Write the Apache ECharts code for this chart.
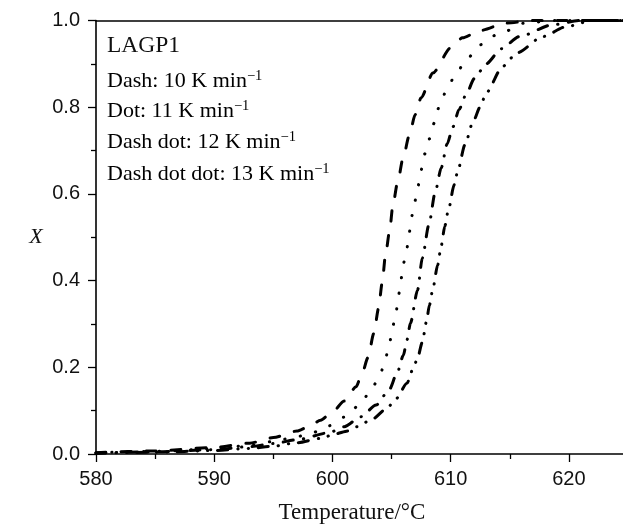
<!DOCTYPE html>
<html>
<head>
<meta charset="utf-8">
<script src="https://cdn.jsdelivr.net/npm/echarts@6/dist/echarts.min.js"></script>
<style>html,body{margin:0;padding:0;background:#fff;}#c{width:623px;height:524px;}</style>
</head>
<body>
<div id="c"></div>
<script>
// Temperature (°C) / conversion X pairs
const dash10 = [[580,0.003],[585,0.007],[590,0.015],[593,0.025],[595,0.038],[597,0.053],[598,0.063],[599,0.078],[600,0.097],[601,0.122],[602,0.155],[602.5,0.185],[603,0.222],[603.5,0.278],[603.9,0.336],[604.2,0.394],[604.5,0.462],[604.85,0.517],[605.1,0.572],[605.5,0.625],[606,0.686],[606.5,0.735],[607,0.783],[607.5,0.822],[608.5,0.879],[610,0.937],[611,0.96],[612.5,0.977],[614.7,0.994],[617,1.0],[625,1.0]];
const dot11 = [[580,0.003],[585,0.006],[590,0.012],[593,0.02],[595,0.029],[597,0.04],[598.3,0.049],[599.7,0.065],[601,0.085],[602.3,0.113],[603.3,0.149],[604.07,0.186],[604.5,0.222],[604.85,0.259],[605.1,0.294],[605.4,0.331],[605.6,0.367],[605.8,0.403],[606.0,0.439],[606.3,0.475],[606.5,0.511],[606.7,0.548],[606.96,0.582],[607.25,0.619],[607.5,0.655],[607.8,0.692],[608.2,0.727],[608.6,0.763],[609.0,0.799],[609.6,0.836],[610.35,0.872],[611.3,0.909],[612.5,0.944],[613.9,0.967],[616.4,0.995],[619,1.0],[625,1.0]];
const dashDot12 = [[580,0.002],[585,0.005],[590,0.01],[593,0.017],[595,0.024],[597,0.033],[599.7,0.049],[601,0.063],[602.4,0.086],[603.7,0.113],[604.8,0.148],[605.5,0.189],[606.0,0.228],[606.3,0.263],[606.6,0.302],[607.2,0.378],[607.6,0.452],[608.15,0.528],[608.7,0.605],[609.2,0.66],[609.7,0.715],[610.2,0.755],[610.7,0.794],[611.3,0.829],[612.0,0.866],[613.0,0.9],[614.3,0.935],[615.8,0.963],[618.6,0.99],[621,1.0],[625,1.0]];
const dashDotDot13 = [[580,0.002],[585,0.004],[590,0.008],[593,0.013],[595,0.018],[597,0.026],[599,0.036],[600.2,0.046],[601.3,0.053],[602.1,0.063],[603.4,0.081],[604.6,0.105],[605.4,0.128],[606.3,0.163],[606.8,0.195],[607.2,0.221],[607.6,0.258],[607.95,0.305],[608.2,0.343],[608.5,0.382],[608.9,0.436],[609.2,0.48],[609.5,0.525],[609.8,0.562],[610.3,0.621],[610.6,0.653],[611.2,0.713],[611.9,0.767],[612.5,0.801],[613.0,0.833],[614.4,0.894],[615.6,0.925],[617.8,0.963],[619.8,0.986],[622,1.0],[625,1.0]];

const xTicks = [580, 590, 600, 610, 620];
const yTicks = [0.0, 0.2, 0.4, 0.6, 0.8, 1.0];
const legendLines = [
  {label: 'Dash: 10 K min', sup: '\u22121'},
  {label: 'Dot: 11 K min', sup: '\u22121'},
  {label: 'Dash dot: 12 K min', sup: '\u22121'},
  {label: 'Dash dot dot: 13 K min', sup: '\u22121'}
];
const sampleName = 'LAGP1';

const chart = echarts.init(document.getElementById('c'), null, {renderer: 'canvas'});
const sansFont = '"Liberation Sans", Arial, sans-serif';
const serifFont = '"Liberation Serif", "Times New Roman", serif';

function lineSeries(name, data, dash) {
  return {
    name: name, type: 'line', data: data, symbol: 'none', smooth: 0.25, smoothMonotone: 'x',
    xAxisIndex: 0, yAxisIndex: 0, silent: true, animation: false, clip: true,
    lineStyle: {color: '#000', width: 3, type: dash, cap: 'round'}
  };
}

const legendY = [81, 111.5, 142.5, 174.5];
const graphics = [
  {type: 'text', left: 107, top: 34, style: {text: sampleName, font: '23.5px ' + serifFont, fill: '#111'}}
];
legendLines.forEach((l, i) => {
  graphics.push({
    type: 'text', x: 107, y: legendY[i],
    style: {
      text: '{a|' + l.label + '}{s|' + l.sup + '}',
      verticalAlign: 'middle', align: 'left',
      rich: {
        a: {fontSize: 22, fontFamily: serifFont, color: '#111', lineHeight: 30},
        s: {fontSize: 14.5, fontFamily: serifFont, color: '#111', padding: [0, 0, 10, 0]}
      }
    }
  });
});
graphics.push({type: 'text', x: 36, y: 237, style: {text: 'X', font: 'italic 22px ' + serifFont, fill: '#111', align: 'center', verticalAlign: 'middle'}});

chart.setOption({
  animation: false,
  backgroundColor: '#fff',
  grid: {left: 96, top: 20.5, width: 532, height: 433.5, containLabel: false, outerBoundsMode: 'none'},
  xAxis: [{
    type: 'value', min: 580, max: 625, interval: 10, position: 'bottom',
    name: 'Temperature/\u00b0C', nameLocation: 'middle', nameGap: 47,
    nameTextStyle: {fontFamily: serifFont, fontSize: 23, color: '#111', padding: [0, 20, 0, 0]},
    axisLine: {onZero: false, lineStyle: {color: '#000', width: 1.6}},
    axisTick: {show: true, inside: false, length: 8, lineStyle: {color: '#000', width: 1.3}},
    minorTick: {show: true, splitNumber: 2, length: 5, lineStyle: {color: '#000', width: 1.3}},
    axisLabel: {margin: 15, fontFamily: sansFont, fontSize: 20, color: '#111', showMaxLabel: false,
      formatter: v => xTicks.indexOf(v) >= 0 ? String(v) : ''},
    splitLine: {show: false}
  }, {
    type: 'value', min: 580, max: 625, position: 'top',
    axisLine: {onZero: false, lineStyle: {color: '#000', width: 1.6}},
    axisTick: {show: false}, axisLabel: {show: false}, splitLine: {show: false}
  }],
  yAxis: [{
    type: 'value', min: 0, max: 1, interval: 0.2,
    axisLine: {show: true, onZero: false, lineStyle: {color: '#000', width: 1.6}},
    axisTick: {show: true, inside: false, length: 8, lineStyle: {color: '#000', width: 1.3}},
    minorTick: {show: true, splitNumber: 2, length: 5, lineStyle: {color: '#000', width: 1.3}},
    axisLabel: {margin: 16, fontFamily: sansFont, fontSize: 20, color: '#111',
      formatter: v => yTicks.some(t => Math.abs(t - v) < 1e-9) ? v.toFixed(1) : ''},
    splitLine: {show: false}
  }],
  graphic: graphics,
  series: [
    lineSeries('Dash: 10 K/min', dash10, [10, 15]),
    lineSeries('Dot: 11 K/min', dot11, [0.3, 15.5]),
    lineSeries('Dash dot: 12 K/min', dashDot12, [10, 10.5, 0.3, 10.5]),
    lineSeries('Dash dot dot: 13 K/min', dashDotDot13, [10, 10, 0.3, 10, 0.3, 10])
  ]
});
</script>
</body>
</html>
